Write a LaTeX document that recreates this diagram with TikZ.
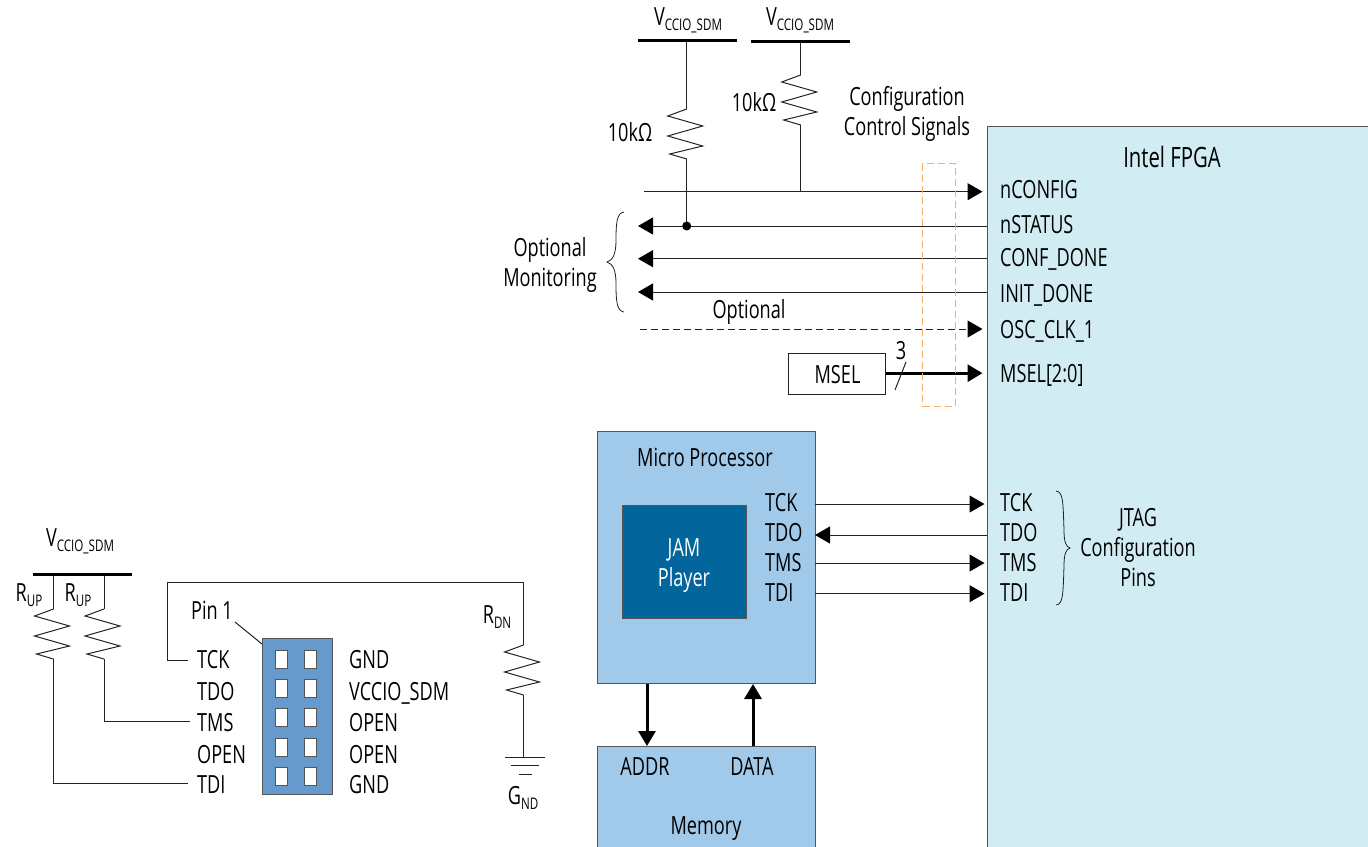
\documentclass[tikz,border=0pt]{standalone}
\usepackage{fontspec}
\setmainfont{Open Sans}[FakeStretch=0.725]
\usetikzlibrary{arrows.meta, positioning, calc}
\definecolor{inkline}{HTML}{222222}
\definecolor{inkedge}{HTML}{555555}
\definecolor{fpgafill}{HTML}{D2ECF3}
\definecolor{cpufill}{HTML}{A0C9EA}
\definecolor{jamfill}{HTML}{02659C}
\definecolor{headerfill}{HTML}{6699CC}
\definecolor{dashorange}{HTML}{F8AE66}
\tikzset{
  sig/.style={draw=inkline, line width=1pt, -{Triangle[length=15pt,width=17pt,color=black]}},
  sigfat/.style={draw=black, line width=3pt, -{Triangle[length=15pt,width=17pt]}},
  wire/.style={draw=inkline, line width=1pt},
  blockbox/.style={draw=inkedge, line width=1pt, anchor=north west, inner sep=0pt},
  txt/.style={inner sep=0pt, align=center},
  pinname/.style={inner sep=0pt, anchor=west, text height=18pt, text depth=0pt, yshift=0.8pt},
}
\newcommand{\sublabel}[2]{#1{\raisebox{-0.35ex}{\fontsize{16}{16}\selectfont #2}}}
\newcommand{\busbar}[3]{%
  \node[fill=black, inner sep=0pt, minimum width=99pt, minimum height=3pt] (#1) at (#2,#3) {};}
\newcommand{\resistor}[3]{%
  \coordinate (#1t) at (#2,#3);
  \coordinate (#1b) at (#2,#3+50);
  \draw[wire] (#1t) -- ++(-19,7) -- ++(35,10) -- ++(-35,10) -- ++(35,10) -- ++(-33,8) -- (#1b);}
\begin{document}
\begin{tikzpicture}[x=1pt, y=-1pt, font=\fontsize{25}{30}\selectfont, text=black]
      \useasboundingbox (0,0) rectangle (1368,846);

      % FPGA and its pins
      \node[blockbox, fill=fpgafill, minimum width=384pt, minimum height=724pt] (fpga) at (986.5,126) {};
      \node[txt, font=\fontsize{28}{30}\selectfont] (fpganame) at (1172,157) {Intel FPGA};
      \node[pinname] (nconfig) at (1000,190) {nCONFIG};
      \node[pinname] (nstatus) at (1000,225) {nSTATUS};
      \node[pinname] (confdone) at (1000,258) {CONF\_DONE};
      \node[pinname] (initdone) at (1000,294) {INIT\_DONE};
      \node[pinname] (oscclk) at (1000,330) {OSC\_CLK\_1};
      \node[pinname] (mselpin) at (1000,374) {MSEL[2:0]};
      \node[pinname] (ftck) at (1000,503) {TCK};
      \node[pinname] (ftdo) at (1000,533) {TDO};
      \node[pinname] (ftms) at (1000,563) {TMS};
      \node[pinname] (ftdi) at (1000,593) {TDI};
      \node[txt] (jtagtext) at (1138,548) {JTAG\\Configuration\\Pins};
      \draw[wire, line width=0.8pt] (1056,491) .. controls (1063,492) and (1063,500) .. (1064,530)
        .. controls (1064,542) and (1066,547) .. (1070,548)
        .. controls (1066,549) and (1064,554) .. (1064,566)
        .. controls (1063,596) and (1063,604) .. (1056,605);

      % pull ups
      \busbar{busa}{687.5}{40}
      \busbar{busb}{800.5}{41}
      \node[txt] (vcca) at (688,20) {\sublabel{V}{CCIO\_SDM}};
      \node[txt] (vccb) at (800,20) {\sublabel{V}{CCIO\_SDM}};
      \resistor{ra}{686.7}{109}
      \resistor{rb}{800.7}{75}
      \node[txt] (tenka) at (630,132) {10kΩ};
      \node[txt] (tenkb) at (754,102) {10kΩ};
      \node[txt] (cfgtext) at (907,114) {Configuration\\Control Signals};

      % control signals
      \coordinate (snconfig) at (644,191.7);
      \coordinate (snstatus) at (638,226);
      \coordinate (sconfdone) at (638,258.7);
      \coordinate (sinitdone) at (638,292);
      \coordinate (soscclk) at (640,329);
      \draw[sig, shorten >=4pt] (snconfig) -- (snconfig -| fpga.west);
      \draw[sig] (snstatus -| fpga.west) -- (snstatus);
      \draw[sig] (sconfdone -| fpga.west) -- (sconfdone);
      \draw[sig] (sinitdone -| fpga.west) -- (sinitdone);
      \draw[sig, dash pattern=on 7pt off 4pt, shorten >=4pt] (soscclk) -- (soscclk -| fpga.west);
      \draw[wire] (busa.south -| rat) -- (rat);
      \draw[wire] (rab) -- (rab |- snstatus);
      \draw[wire] (busb.south -| rbt) -- (rbt);
      \draw[wire] (rbb) -- (rbb |- snconfig);
      \fill[black] (rab |- snstatus) circle (4.5pt);
      \node[txt] (opttext) at (749,312) {Optional};
      \node[txt] (montext) at (550,265) {Optional\\Monitoring};
      \draw[wire, line width=0.8pt] (624,212) .. controls (617,213) and (616,222) .. (616,240)
        .. controls (616,254) and (613,260) .. (607,262)
        .. controls (613,264) and (616,270) .. (616,284)
        .. controls (616,302) and (617,311) .. (624,312);

      % msel
      \node[blockbox, fill=white, draw=inkline, minimum width=97pt, minimum height=41pt] (msel) at (788,353) {};
      \node[txt] (mseltext) at (837.5,375) {MSEL};
      \draw[sigfat, shorten >=4pt] (msel.east |- mselpin) -- (mselpin -| fpga.west);
      \coordinate (slasha) at (895,390);
      \coordinate (slashb) at (906,362);
      \draw[wire] (slasha) -- (slashb);
      \node[txt] (three) at (901,351) {3};
      \node[draw=dashorange, dash pattern=on 7pt off 4pt, line width=1.4pt, inner sep=0pt, anchor=north west,
            minimum width=32.5pt, minimum height=243pt] (ctrlgroup) at (922,163) {};

      % processor and memory
      \node[blockbox, fill=cpufill, minimum width=218pt, minimum height=252pt] (cpu) at (596.5,431) {};
      \node[txt] (cputext) at (705,457) {Micro Processor};
      \node[blockbox, fill=jamfill, minimum width=124pt, minimum height=113pt] (jam) at (622,505) {};
      \node[txt, text=white] (jamtext) at (684,566) {JAM\\Player};
      \node[pinname] (ctck) at (765,503) {TCK};
      \node[pinname] (ctdo) at (765,533) {TDO};
      \node[pinname] (ctms) at (765,563) {TMS};
      \node[pinname] (ctdi) at (765,593) {TDI};
      \coordinate (jtck) at (815,504);
      \coordinate (jtdo) at (815,535);
      \coordinate (jtms) at (815,563);
      \coordinate (jtdi) at (815,593.7);
      \draw[sig, shorten >=2pt] (jtck) -- (jtck -| fpga.west);
      \draw[sig] (jtdo -| fpga.west) -- (jtdo);
      \draw[sig, shorten >=2pt] (jtms) -- (jtms -| fpga.west);
      \draw[sig, shorten >=2pt] (jtdi) -- (jtdi -| fpga.west);
      \node[blockbox, fill=cpufill, minimum width=218pt, minimum height=102pt] (mem) at (596.5,746) {};
      \node[pinname, anchor=center] (addr) at (645,767) {ADDR};
      \node[pinname, anchor=center] (data) at (752,767) {DATA};
      \node[pinname, anchor=center] (memtext) at (706,826) {Memory};
      \draw[sigfat] (cpu.south -| 647,0) -- (mem.north -| 647,0);
      \draw[sigfat] (mem.north -| 753,0) -- (cpu.south -| 753,0);

      % jtag header
      \node[blockbox, fill=headerfill, minimum width=70pt, minimum height=156pt] (header) at (261.5,638) {};
      \foreach \hy in {659,688,717.5,747,776} {
        \node[draw=inkedge, fill=white, line width=1pt, inner sep=0pt,
              minimum width=12pt, minimum height=18pt] at (281,\hy) {};
        \node[draw=inkedge, fill=white, line width=1pt, inner sep=0pt,
              minimum width=12pt, minimum height=18pt] at (310.5,\hy) {};
      }
      \node[pinname] (htck) at (197,660) {TCK};
      \node[pinname] (htdo) at (197,692) {TDO};
      \node[pinname] (htms) at (197,723) {TMS};
      \node[pinname] (hopen) at (197,755) {OPEN};
      \node[pinname] (htdi) at (197,785) {TDI};
      \node[pinname] (hgnda) at (349,660) {GND};
      \node[pinname] (hvcc) at (349,692) {VCCIO\_SDM};
      \node[pinname] (hopena) at (349,723) {OPEN};
      \node[pinname] (hopenb) at (349,755) {OPEN};
      \node[pinname] (hgndb) at (349,785) {GND};
      \node[pinname, anchor=center] (pinone) at (212,611) {Pin 1};
      \coordinate (pinlead) at (235,622);
      \draw[wire] (pinlead) -- (262,644);

      % jtag pull ups and pull down
      \busbar{busc}{82}{574}
      \node[txt] (vccc) at (80,541) {\sublabel{V}{CCIO\_SDM}};
      \resistor{rc}{53.5}{609}
      \resistor{rd}{104}{609}
      \node[txt] (rupa) at (29,595) {\sublabel{R}{UP}};
      \node[txt] (rupb) at (78,595) {\sublabel{R}{UP}};
      \coordinate (etdi) at (188,783);
      \coordinate (etms) at (190,721);
      \coordinate (etck) at (188,660);
      \draw[wire] (busc.south -| rct) -- (rct);
      \draw[wire] (busc.south -| rdt) -- (rdt);
      \draw[wire] (rcb) |- (etdi);
      \draw[wire] (rdb) |- (etms);
      \resistor{re}{523.5}{645}
      \draw[wire] (etck) -- (167.5,660) |- (ret |- 0,582) -- (ret);
      \coordinate (gndtop) at (523.5,757);
      \draw[wire] (reb) -- (gndtop);
      \draw[wire] ($(gndtop)+(-19,0)$) -- ($(gndtop)+(21,0)$);
      \draw[wire] ($(gndtop)+(-13,8)$) -- ($(gndtop)+(15,8)$);
      \draw[wire] ($(gndtop)+(-5,17)$) -- ($(gndtop)+(8,17)$);
      \node[txt] (rdn) at (497,617) {\sublabel{R}{DN}};
      \node[txt] (gndtext) at (523,798) {\sublabel{G}{ND}};
    \end{tikzpicture}
\end{document}
